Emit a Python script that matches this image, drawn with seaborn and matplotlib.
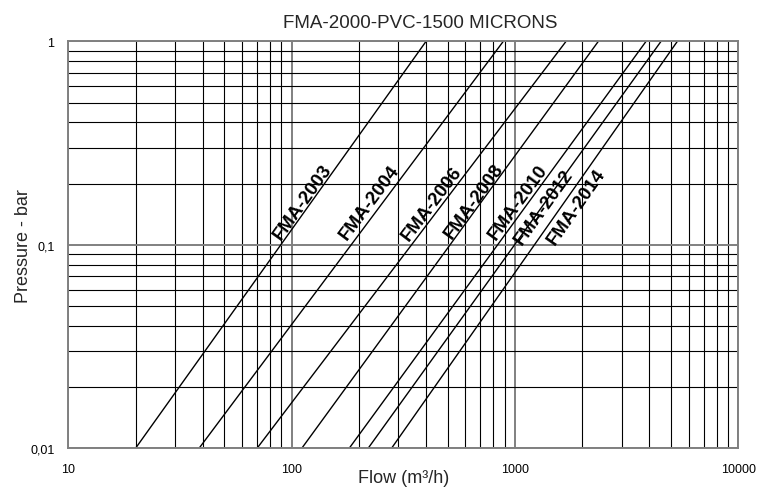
import numpy as np
import pandas as pd
import matplotlib
matplotlib.use("Agg")
import matplotlib.pyplot as plt
import seaborn as sns
from matplotlib.ticker import FixedLocator, FixedFormatter, NullFormatter, LogLocator

# ---- data ----
models = ["FMA-2003", "FMA-2004", "FMA-2006", "FMA-2008", "FMA-2010", "FMA-2012", "FMA-2014"]
flow_at_p_min = [20, 38.5, 70, 111, 181, 220, 280]          # flow (m3/h) where pressure = 0.01 bar
flow_at_p_max = [400, 887, 1694, 2363, 3865, 4510, 5337]    # flow (m3/h) where pressure = 1 bar
pressure_ends = [0.01, 1.0]

x_ticks = [10, 100, 1000, 10000]
x_ticklabels = ["10", "100", "1000", "10000"]
y_ticks = [0.01, 0.1, 1]
y_ticklabels = ["0,01", "0,1", "1"]

title = "FMA-2000-PVC-1500 MICRONS"
xlabel = "Flow (m³/h)"
ylabel = "Pressure - bar"

rows = []
for m, f0, f1 in zip(models, flow_at_p_min, flow_at_p_max):
    rows.append({"model": m, "flow": f0, "pressure": pressure_ends[0]})
    rows.append({"model": m, "flow": f1, "pressure": pressure_ends[1]})
df = pd.DataFrame(rows)

sns.set_theme(style="white")
plt.rcParams["font.family"] = ["Liberation Sans", "DejaVu Sans"]

W, H = 763, 489
fig = plt.figure(figsize=(W / 100, H / 100), dpi=100)
L, R, T, B = 68.3, 738.3, 42.3, 449.3
ax = fig.add_axes([L / W, 1 - B / H, (R - L) / W, (B - T) / H])

sns.lineplot(data=df, x="flow", y="pressure", hue="model", units="model", estimator=None,
             palette=["black"] * len(models), legend=False, linewidth=1.0, ax=ax)

ax.set_xscale("log")
ax.set_yscale("log")
ax.set_xlim(10, 10000)
ax.set_ylim(0.01, 1)

ax.xaxis.set_major_locator(FixedLocator(x_ticks))
ax.xaxis.set_major_formatter(FixedFormatter(x_ticklabels))
ax.yaxis.set_major_locator(FixedLocator(y_ticks))
ax.yaxis.set_major_formatter(FixedFormatter(y_ticklabels))
ax.xaxis.set_minor_locator(LogLocator(base=10, subs=np.arange(2, 10), numticks=20))
ax.yaxis.set_minor_locator(LogLocator(base=10, subs=np.arange(2, 10), numticks=20))
ax.xaxis.set_minor_formatter(NullFormatter())
ax.yaxis.set_minor_formatter(NullFormatter())

ax.grid(which="minor", color="black", linewidth=0.8)
ax.grid(which="major", color="#808080", linewidth=1.4)
ax.set_axisbelow(True)
for s in ax.spines.values():
    s.set_color("#808080")
    s.set_linewidth(1.4)

ax.tick_params(axis="x", which="major", direction="out", length=4, width=1.2, color="#808080",
               labelsize=9, pad=6.5, labelcolor="black")
ax.tick_params(axis="y", which="major", direction="out", length=5, width=1.2, color="#808080",
               labelsize=9, pad=5, labelcolor="black")
ax.tick_params(which="minor", length=0)
ax.set_xlabel("")
ax.set_ylabel("")

fig.text(420 / W, 1 - 28.3 / H, title, ha="center", va="baseline", fontsize=13.5)
fig.text(404 / W, 1 - 483 / H, xlabel, ha="center", va="baseline", fontsize=13)
fig.text(28.5 / W, 1 - 246 / H, ylabel, ha="center", va="baseline", rotation=90,
         rotation_mode="anchor", fontsize=13)

# line labels
fig.canvas.draw()
label_pressure = [0.164, 0.162, 0.160, 0.164, 0.162, 0.155, 0.155]
label_dx_px = [-9.5, -13.5, -11.5, -7.5, -10.5, 1.0, 15.0]
for m, f0, f1, p, dx in zip(models, flow_at_p_min, flow_at_p_max, label_pressure, label_dx_px):
    t = (np.log10(p) - np.log10(pressure_ends[0])) / (np.log10(pressure_ends[1]) - np.log10(pressure_ends[0]))
    fx = 10 ** (np.log10(f0) + t * (np.log10(f1) - np.log10(f0)))
    p0 = ax.transData.transform((f0, pressure_ends[0]))
    p1 = ax.transData.transform((f1, pressure_ends[1]))
    ang = np.degrees(np.arctan2(p1[1] - p0[1], p1[0] - p0[0]))
    ax.annotate(m, xy=(fx, p), xytext=(dx * 72 / 100, 0), textcoords="offset points",
                ha="center", va="center", rotation=ang, rotation_mode="anchor",
                fontsize=13.5, fontweight="bold", color="black")

fig.savefig("out.png", dpi=100)
